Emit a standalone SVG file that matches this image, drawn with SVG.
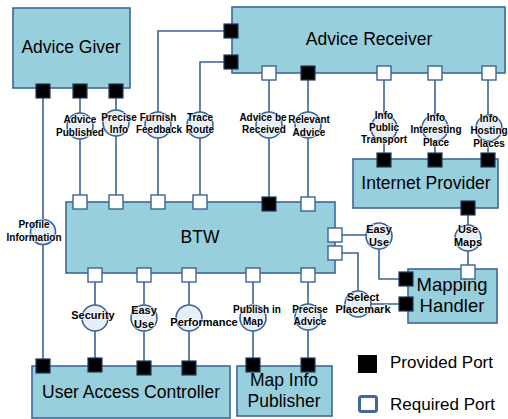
<svg xmlns="http://www.w3.org/2000/svg" width="508" height="419" viewBox="0 0 508 419">
<defs>
<style>
.box{fill:#98CFDC;stroke:#3F6798;stroke-width:1.6}
.ttl{font-family:"Liberation Sans",Arial,sans-serif;font-size:17.5px;fill:#000;text-anchor:middle}
.ln{fill:none;stroke:#3B6394;stroke-width:1.6}
.ifc{fill:#E6EEF8;stroke:#3B6394;stroke-width:1.6}
.pp{fill:#000;stroke:#1E3A5F;stroke-width:1.2}
.rp{fill:#fff;stroke:#3B6394;stroke-width:1.4}
.lb{font-family:"Liberation Sans",Arial,sans-serif;font-size:10px;font-weight:bold;fill:#000;text-anchor:middle;stroke:#fff;stroke-width:1.6;stroke-opacity:0.7;paint-order:stroke}
.lb11{font-size:11px}
.lg{font-family:"Liberation Sans",Arial,sans-serif;font-size:17px;fill:#000}
</style>
</defs>
<rect width="508" height="419" fill="#fff"/>

<g id="connectors">
<path class="ln" d="M43,98 V359"/>
<path class="ln" d="M80,98 V195"/>
<path class="ln" d="M116,98 V195"/>
<path class="ln" d="M224,31 H158 V195"/>
<path class="ln" d="M224,62 H200 V195"/>
<path class="ln" d="M269,80 V197"/>
<path class="ln" d="M308,80 V197"/>
<path class="ln" d="M384,80 V153"/>
<path class="ln" d="M435,80 V153"/>
<path class="ln" d="M488,80 V153"/>
<path class="ln" d="M95,282 V359"/>
<path class="ln" d="M144,282 V361"/>
<path class="ln" d="M189,282 V361"/>
<path class="ln" d="M253,282 V358"/>
<path class="ln" d="M308,282 V358"/>
<path class="ln" d="M342,235 H366 M379,249 V279 H399"/>
<path class="ln" d="M342,253 H358 V291 M371,304 H399"/>
<path class="ln" d="M468,215 V265"/>
</g>

<g id="advice-giver">
<rect class="box" x="13" y="8" width="117" height="80"/>
<text class="ttl" x="71" y="53">Advice Giver</text>
<rect class="pp" x="36" y="84" width="14" height="14"/>
<rect class="pp" x="73" y="84" width="14" height="14"/>
<rect class="pp" x="109" y="84" width="14" height="14"/>
</g>

<g id="advice-receiver">
<rect class="box" x="232" y="7" width="273" height="66"/>
<text class="ttl" x="369" y="45">Advice Receiver</text>
<rect class="pp" x="224" y="24" width="14" height="14"/>
<rect class="pp" x="224" y="55" width="14" height="14"/>
<rect class="rp" x="262" y="66" width="14" height="14"/>
<rect class="pp" x="301" y="66" width="14" height="14"/>
<rect class="rp" x="377" y="66" width="14" height="14"/>
<rect class="rp" x="428" y="66" width="14" height="14"/>
<rect class="rp" x="482" y="66" width="14" height="14"/>
</g>

<g id="internet-provider">
<rect class="box" x="353" y="159" width="145" height="49"/>
<text class="ttl" x="426" y="189">Internet Provider</text>
<rect class="pp" x="377" y="153" width="14" height="14"/>
<rect class="pp" x="428" y="153" width="14" height="14"/>
<rect class="pp" x="481" y="153" width="14" height="14"/>
<rect class="pp" x="461" y="201" width="14" height="14"/>
</g>

<g id="btw">
<rect class="box" x="66" y="202" width="269" height="71"/>
<text class="ttl" x="200" y="243">BTW</text>
<rect class="rp" x="73" y="195" width="14" height="14"/>
<rect class="rp" x="109" y="195" width="14" height="14"/>
<rect class="rp" x="151" y="195" width="14" height="14"/>
<rect class="rp" x="193" y="195" width="14" height="14"/>
<rect class="pp" x="262" y="197" width="14" height="14"/>
<rect class="rp" x="301" y="197" width="14" height="14"/>
<rect class="rp" x="88" y="268" width="14" height="14"/>
<rect class="rp" x="137" y="268" width="14" height="14"/>
<rect class="rp" x="182" y="268" width="14" height="14"/>
<rect class="rp" x="246" y="268" width="14" height="14"/>
<rect class="rp" x="301" y="268" width="14" height="14"/>
<rect class="rp" x="328" y="228" width="14" height="14"/>
<rect class="rp" x="328" y="246" width="14" height="14"/>
</g>

<g id="user-access-controller">
<rect class="box" x="32" y="366" width="198" height="52"/>
<text class="ttl" x="131" y="398">User Access Controller</text>
<rect class="pp" x="36" y="359" width="14" height="14"/>
<rect class="pp" x="88" y="358" width="14" height="14"/>
<rect class="pp" x="137" y="361" width="14" height="14"/>
<rect class="pp" x="182" y="361" width="14" height="14"/>
</g>

<g id="map-info-publisher">
<rect class="box" x="237" y="366" width="95" height="50"/>
<text class="ttl" x="284" y="386">Map Info</text>
<text class="ttl" x="284" y="407">Publisher</text>
<rect class="pp" x="246" y="358" width="14" height="14"/>
<rect class="pp" x="301" y="358" width="14" height="14"/>
</g>

<g id="mapping-handler">
<rect class="box" x="408" y="269" width="89" height="54"/>
<text class="ttl" x="452" y="291" style="font-size:18.5px">Mapping</text>
<text class="ttl" x="452" y="312" style="font-size:18.5px">Handler</text>
<rect class="pp" x="399" y="272" width="14" height="14"/>
<rect class="pp" x="399" y="297" width="14" height="14"/>
<rect class="rp" x="461" y="265" width="14" height="14"/>
</g>

<g id="if-advice-published"><circle class="ifc" cx="80" cy="126" r="13"/><text class="lb" x="80" y="123">Advice</text><text class="lb" x="80" y="136">Published</text></g>
<g id="if-precise-info"><circle class="ifc" cx="116" cy="123" r="13"/><text class="lb" x="119" y="121">Precise</text><text class="lb" x="119" y="133">Info</text></g>
<g id="if-furnish-feedback"><circle class="ifc" cx="158" cy="125" r="13"/><text class="lb" x="158" y="121">Furnish</text><text class="lb" x="159" y="133">Feedback</text></g>
<g id="if-trace-route"><circle class="ifc" cx="200" cy="125" r="13"/><text class="lb" x="200" y="121">Trace</text><text class="lb" x="200" y="133">Route</text></g>
<g id="if-advice-be-received"><circle class="ifc" cx="269" cy="125" r="13"/><text class="lb" x="263" y="121">Advice be</text><text class="lb" x="264" y="133">Received</text></g>
<g id="if-relevant-advice"><circle class="ifc" cx="308" cy="125" r="13"/><text class="lb" x="309" y="123">Relevant</text><text class="lb" x="309" y="136">Advice</text></g>
<g id="if-info-public-transport"><circle class="ifc" cx="384" cy="128" r="13"/><text class="lb" x="384" y="119">Info</text><text class="lb" x="384" y="131">Public</text><text class="lb" x="384" y="143">Transport</text></g>
<g id="if-info-interesting-place"><circle class="ifc" cx="435" cy="128" r="13"/><text class="lb" x="436" y="121">Info</text><text class="lb" x="436" y="133">Interesting</text><text class="lb" x="436" y="146">Place</text></g>
<g id="if-info-hosting-places"><circle class="ifc" cx="489" cy="128" r="13"/><text class="lb" x="489" y="122">Info</text><text class="lb" x="489" y="134">Hosting</text><text class="lb" x="489" y="147">Places</text></g>
<g id="if-profile-information"><circle class="ifc" cx="43" cy="232" r="12.5"/><text class="lb" x="34" y="228">Profile</text><text class="lb" x="34" y="241">Information</text></g>
<g id="if-security"><circle class="ifc" cx="95" cy="318" r="13"/><text class="lb lb11" x="93" y="319">Security</text></g>
<g id="if-easy-use"><circle class="ifc" cx="144" cy="318" r="13"/><text class="lb lb11" x="144" y="314">Easy</text><text class="lb lb11" x="144" y="328">Use</text></g>
<g id="if-performance"><circle class="ifc" cx="189" cy="318" r="13"/><text class="lb lb11" x="204" y="326">Performance</text></g>
<g id="if-publish-in-map"><circle class="ifc" cx="253" cy="318" r="13"/><text class="lb" x="257" y="313">Publish in</text><text class="lb" x="253" y="325">Map</text></g>
<g id="if-precise-advice"><circle class="ifc" cx="308" cy="317" r="13"/><text class="lb" x="310" y="313">Precise</text><text class="lb" x="310" y="325">Advice</text></g>
<g id="if-easy-use-2"><circle class="ifc" cx="379" cy="236" r="13"/><text class="lb lb11" x="379" y="233">Easy</text><text class="lb lb11" x="379" y="246">Use</text></g>
<g id="if-use-maps"><circle class="ifc" cx="468" cy="238" r="13"/><text class="lb lb11" x="468" y="233">Use</text><text class="lb lb11" x="468" y="246">Maps</text></g>
<g id="if-select-placemark"><circle class="ifc" cx="358" cy="304" r="13"/><text class="lb lb11" x="363" y="301">Select</text><text class="lb lb11" x="363" y="313">Placemark</text></g>

<g id="legend">
<rect x="358" y="355" width="19" height="18" fill="#000"/>
<text class="lg" x="390" y="368">Provided Port</text>
<rect x="359.5" y="396.5" width="17" height="15" rx="2" fill="#fff" stroke="#41689A" stroke-width="3"/>
<text class="lg" x="390" y="410">Required Port</text>
</g>
</svg>
